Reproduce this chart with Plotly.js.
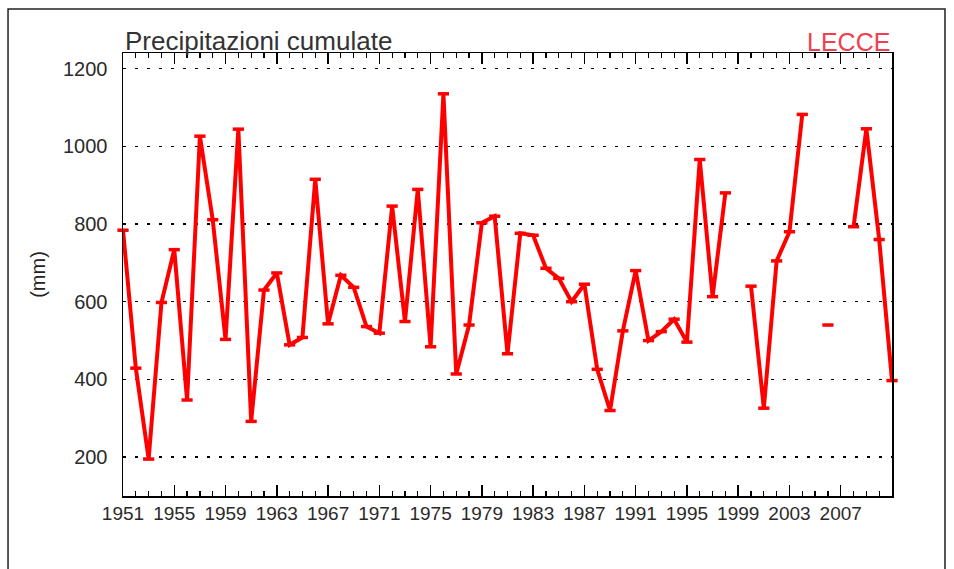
<!DOCTYPE html>
<html>
<head>
<meta charset="utf-8">
<script src="https://cdn.plot.ly/plotly-3.0.1.min.js"></script>
<style>html,body{margin:0;padding:0;background:#fff;}#chart{width:954px;height:569px;}</style>
</head>
<body>
<div id="chart"></div>
<script>
const years = [1951,1952,1953,1954,1955,1956,1957,1958,1959,1960,
  1961,1962,1963,1964,1965,1966,1967,1968,1969,1970,
  1971,1972,1973,1974,1975,1976,1977,1978,1979,1980,
  1981,1982,1983,1984,1985,1986,1987,1988,1989,1990,
  1991,1992,1993,1994,1995,1996,1997,1998,1999,2000,
  2001,2002,2003,2004,2005,2006,2007,2008,2009,2010,2011];
const precipitation = [784,429,195,598,734,347,1026,811,503,1044,
  292,630,674,489,508,915,543,668,637,536,
  519,846,549,889,484,1135,414,540,803,820,
  466,776,771,686,660,600,645,426,320,525,
  680,500,523,555,496,966,613,880,null,640,
  326,705,780,1082,null,540,null,793,1045,760,397];
const xTickVals = [1951,1955,1959,1963,1967,1971,1975,1979,1983,1987,1991,1995,1999,2003,2007];
const xTickText = ['1951','1955','1959','1963','1967','1971','1975','1979','1983','1987','1991','1995','1999','2003','2007'];
const yTickVals = [200,400,600,800,1000,1200];
const yTickText = ['200','400','600','800','1000','1200'];
const chartTitle = 'Precipitazioni cumulate';
const stationName = 'LECCE';
const yTitle = '(mm)';

const font = 'Liberation Sans, Arial, Helvetica, sans-serif';

const trace = {
  x: years,
  y: precipitation,
  type: 'scatter',
  mode: 'lines+markers',
  connectgaps: false,
  cliponaxis: false,
  line: {color: '#ff0000', width: 4},
  marker: {symbol: 'line-ew', size: 8, color: '#ff0000', line: {color: '#ff0000', width: 3.5}},
  hoverinfo: 'x+y'
};

const layout = {
  width: 954,
  height: 569,
  margin: {l: 123, r: 62, t: 53, b: 73},
  paper_bgcolor: '#ffffff',
  plot_bgcolor: '#ffffff',
  showlegend: false,
  font: {family: font, color: '#333333'},
  xaxis: {
    range: [1951, 2011],
    tickmode: 'array',
    tickvals: xTickVals,
    ticktext: xTickText,
    ticks: 'inside',
    ticklen: 11,
    tickwidth: 1.5,
    tickcolor: '#000',
    showline: true,
    linecolor: '#000',
    linewidth: 1.5,
    mirror: 'ticks',
    showgrid: false,
    zeroline: false,
    tickfont: {family: font, size: 19, color: '#2a2a2a'},
    minor: {tickmode: 'linear', tick0: 1951, dtick: 1, ticks: 'inside', ticklen: 5, tickwidth: 1.2, tickcolor: '#000', showgrid: false}
  },
  yaxis: {
    range: [100, 1240],
    tickmode: 'array',
    tickvals: yTickVals,
    ticktext: yTickText,
    ticks: '',
    showline: true,
    linecolor: '#000',
    linewidth: 1.5,
    mirror: true,
    showgrid: true,
    gridcolor: '#000',
    gridwidth: 1.3,
    griddash: '3px,9px',
    zeroline: false,
    ticklabelstandoff: 10,
    tickfont: {family: font, size: 20, color: '#2a2a2a'},
    title: {text: yTitle, font: {family: font, size: 20, color: '#222'}, standoff: 12}
  },
  annotations: [
    {text: chartTitle, xref: 'paper', yref: 'paper', x: 0, y: 1, xanchor: 'left', yanchor: 'bottom',
     showarrow: false, font: {family: font, size: 26, color: '#333'}, yshift: -5},
    {text: stationName, xref: 'paper', yref: 'paper', x: 1, y: 1, xanchor: 'right', yanchor: 'bottom',
     showarrow: false, font: {family: font, size: 25, color: '#f04050'}, yshift: -5}
  ],
  shapes: [
    {type: 'rect', xref: 'paper', yref: 'paper', x0: -0.1495, x1: 1.0689, y0: -0.2, y1: 1.0993,
     line: {color: '#222', width: 1.5}, fillcolor: 'rgba(0,0,0,0)', layer: 'below'}
  ]
};

Plotly.newPlot('chart', [trace], layout, {displayModeBar: false, staticPlot: true});
</script>
</body>
</html>
